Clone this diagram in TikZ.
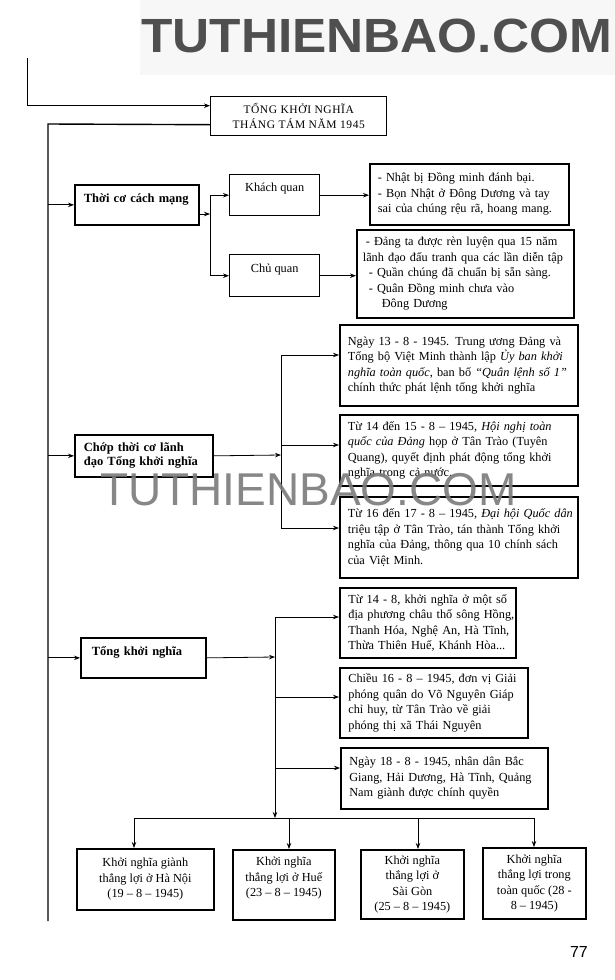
\documentclass[tikz,border=0pt]{standalone}
\usepackage{fontspec}
\usepackage{graphicx}
\setmainfont{Liberation Serif}
\newfontfamily\wmfont{Liberation Sans}
\newfontfamily\titlefont[LetterSpace=5]{Liberation Serif}
\usetikzlibrary{arrows.meta,calc}
\newcommand\bodyf{\fontsize{12.3}{15.5}\selectfont}
\newcommand\rw[1]{\mbox{#1}}
\begin{document}
\begin{tikzpicture}[x=1pt,y=-1pt,
 line/.style={line width=0.8pt},
 arr/.style={line width=0.8pt,-{Stealth[length=6pt,width=4.5pt]}},
 box/.style={draw,line width=1.7pt,anchor=north west,inner ysep=0pt,font=\bodyf},
 lbox/.style={box,align=left,inner xsep=8pt},
 cbox/.style={box,align=center,inner xsep=2pt},
 bbox/.style={lbox,font=\bfseries\fontsize{12.5}{14}\selectfont},
]
\path[use as bounding box] (0,0) rectangle (615,980);
\fill[white] (0,0) rectangle (615,980);
\fill[black!3] (140,0) rectangle (615,75);

% watermark top
\node[anchor=base west,inner sep=0pt,text=black!69,font=\wmfont\bfseries\fontsize{48}{48}\selectfont] (wm1) at (141,52.5) {\scalebox{1.07}[1]{TUTHIENBAO.COM}};

% title
\node[cbox,line width=1.4pt,minimum width=176pt,minimum height=39pt,font=\titlefont\fontsize{11.5}{15}\selectfont] (title) at (210,96) {TỔNG KHỞI NGHĨA\\THÁNG TÁM NĂM 1945};

% level 1
\node[bbox,minimum width=124pt,minimum height=40pt,text width=106pt,inner xsep=9pt] (thoico) at (74,184) {Thời cơ cách mạng\\\mbox{}};
\node[bbox,minimum width=138pt,minimum height=42pt,text width=120pt,inner xsep=9pt] (chop) at (74,434) {Chớp thời cơ lãnh\\đạo Tổng khởi nghĩa};
\node[bbox,minimum width=125pt,minimum height=40pt,text width=103pt,inner xsep=11pt] (tkn) at (80,637) {Tổng khởi nghĩa\\\mbox{}};

% thoi co
\node[cbox,line width=1.4pt,minimum width=90pt,minimum height=41pt] (kq) at (229,174) {Khách quan\\\mbox{}};
\node[cbox,line width=1.4pt,minimum width=90pt,minimum height=42pt] (cq) at (229,254) {Chủ quan\\\mbox{}};
\node[lbox,minimum width=199pt,minimum height=61pt,text width=183pt] (kqd) at (369,163) {\rw{- Nhật bị Đồng minh đánh bại.}\\\rw{- Bọn Nhật ở Đông Dương và tay}\\\rw{sai của chúng rệu rã, hoang mang.}};
\node[lbox,minimum width=217pt,minimum height=88pt,text width=205pt,inner xsep=6pt] (cqd) at (356,229) {\rw{\hspace*{3pt}- Đảng ta được rèn luyện qua 15 năm}\\\rw{lãnh đạo đấu tranh qua các lần diễn tập}\\\rw{\hspace*{6pt}- Quần chúng đã chuẩn bị sẵn sàng.}\\\rw{\hspace*{6pt}- Quân Đồng minh chưa vào}\\\rw{\hspace*{19pt}Đông Dương}};

% chop thoi co
\node[lbox,minimum width=238pt,minimum height=81pt,text width=222pt] (b13) at (339,324) {\rw{Ngày 13 - 8 - 1945. Trung ương Đảng và}\\\rw{Tổng bộ Việt Minh thành lập \textit{Ủy ban khởi}}\\\rw{\textit{nghĩa toàn quốc}, ban bố \textit{``Quân lệnh số 1''}}\\\rw{chính thức phát lệnh tổng khởi nghĩa}};
\node[lbox,minimum width=238pt,minimum height=71pt,text width=222pt] (b1415) at (339,414) {\rw{Từ 14 đến 15 - 8 – 1945, \textit{Hội nghị toàn}}\\\rw{\textit{quốc của Đảng} họp ở Tân Trào (Tuyên}\\\rw{Quang), quyết định phát động tổng khởi}\\\rw{nghĩa trong cả nước.}};
\node[lbox,minimum width=238pt,minimum height=81pt,text width=222pt] (b1617) at (339,496) {\rw{Từ 16 đến 17 - 8 – 1945, \textit{Đại hội Quốc dân}}\\\rw{triệu tập ở Tân Trào, tán thành Tổng khởi}\\\rw{nghĩa của Đảng, thông qua 10 chính sách}\\\rw{của Việt Minh.}};

% tong khoi nghia
\node[lbox,minimum width=176pt,minimum height=70pt,text width=159pt,inner xsep=8.5pt] (b148) at (339,587) {\rw{Từ 14 - 8, khởi nghĩa ở một số}\\\rw{địa phương châu thổ sông Hồng,}\\\rw{Thanh Hóa, Nghệ An, Hà Tĩnh,}\\\rw{Thừa Thiên Huế, Khánh Hòa...}};
\node[lbox,minimum width=188pt,minimum height=70pt,text width=171pt,inner xsep=8.5pt] (bc16) at (339,667) {\rw{Chiều 16 - 8 – 1945, đơn vị Giải}\\\rw{phóng quân do Võ Nguyên Giáp}\\\rw{chỉ huy, từ Tân Trào về giải}\\\rw{phóng thị xã Thái Nguyên}};
\node[lbox,minimum width=207pt,minimum height=61pt,text width=190pt,inner xsep=8.5pt] (b18) at (340,747) {\rw{Ngày 18 - 8 - 1945, nhân dân Bắc}\\\rw{Giang, Hải Dương, Hà Tĩnh, Quảng}\\\rw{Nam giành được chính quyền}};

% bottom
\node[cbox,minimum width=137pt,minimum height=61pt] (hn) at (76,848) {Khởi nghĩa giành\\thắng lợi ở Hà Nội\\(19 – 8 – 1945)};
\node[cbox,minimum width=102pt,minimum height=70pt] (hue) at (232,849) {Khởi nghĩa\\thắng lợi ở Huế\\(23 – 8 – 1945)\\\mbox{}};
\node[cbox,minimum width=103pt,minimum height=69pt] (sg) at (360,849) {Khởi nghĩa\\thắng lợi ở\\Sài Gòn\\(25 – 8 – 1945)};
\node[cbox,minimum width=103pt,minimum height=71pt] (tq) at (482,847) {Khởi nghĩa\\thắng lợi trong\\toàn quốc (28 -\\8 – 1945)};

% connectors
\coordinate (tl) at (27,58);
\draw[arr] (tl) |- ([yshift=10.5pt]title.west);
\coordinate (mtop) at (48,124);
\coordinate (mbot) at (48,921);
\draw[line width=1.4pt] ([yshift=-8.5pt]title.west) -- (mtop) -- (mbot);
\draw[arr] (thoico.west -| mtop) -- (thoico.west);
\draw[arr] (chop.west -| mtop) -- (chop.west);
\draw[arr] (tkn.west -| mtop) -- (tkn.west);

\coordinate (j1) at (210,214);
\draw[arr] (thoico.east |- j1) -- (j1);
\draw[line] (j1 |- kq.west) -- (j1 |- cq.west);
\draw[arr] (j1 |- kq.west) -- (kq.west);
\draw[arr] (j1 |- cq.west) -- (cq.west);
\draw[arr] (kq.east) -- (kq.east -| kqd.west);
\draw[arr] (cq.east) -- (cq.east -| cqd.west);

\coordinate (j2) at (281,455);
\coordinate (v2a) at (281,355);
\coordinate (v2b) at (281,445);
\coordinate (v2c) at (281,528);
\draw[arr] (chop.east) -- (j2);
\draw[line] (v2a) -- (v2c);
\draw[arr] (v2a) -- (v2a -| b13.west);
\draw[arr] (v2b) -- (v2b -| b1415.west);
\draw[arr] (v2c) -- (v2c -| b1617.west);

\coordinate (j3) at (275,657);
\coordinate (v3a) at (275,617);
\coordinate (v3b) at (275,697);
\coordinate (v3c) at (275,768);
\coordinate (v3d) at (275,818);
\draw[arr] (tkn.east) -- (j3);
\draw[arr] (v3a) -- (v3d);
\draw[arr] (v3a) -- (v3a -| b148.west);
\draw[arr] (v3b) -- (v3b -| bc16.west);
\draw[arr] (v3c) -- (v3c -| b18.west);

\coordinate (h1) at (134,818);
\coordinate (h2) at (289,818);
\coordinate (h3) at (418,818);
\coordinate (h4) at (534,818);
\draw[line] (h1) -- (h4);
\draw[arr] (h1) -- (h1 |- hn.north);
\draw[arr] (h2) -- (h2 |- hue.north);
\draw[arr] (h3) -- (h3 |- sg.north);
\draw[arr] (h4) -- (h4 |- tq.north);

% page number
\node[anchor=base east,inner sep=0pt,font=\wmfont\fontsize{16}{16}\selectfont] (pg) at (588,957) {77};

% middle watermark
\node[anchor=base west,inner sep=0pt,text=black!52,opacity=0.9,font=\wmfont\fontsize{46}{46}\selectfont] (wm2) at (100,505) {TUTHIENBAO.COM};
\end{tikzpicture}
\end{document}
